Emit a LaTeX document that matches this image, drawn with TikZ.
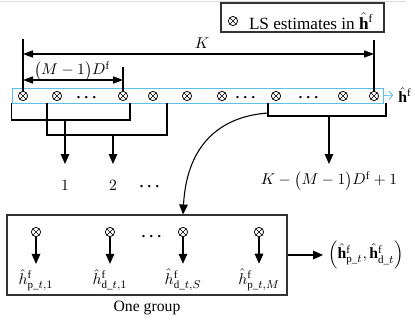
\documentclass[tikz,border=0pt]{standalone}
\usepackage{amsmath}
\usepackage{fontspec}
\setmainfont{Liberation Serif}
\usetikzlibrary{positioning, arrows.meta}
\definecolor{rowblue}{RGB}{95,190,230}

\begin{document}
\begin{tikzpicture}[x=0.7pt, y=-0.7pt, line width=0.75pt, font=\fontsize{11}{13}\selectfont,
    est/.style={circle, draw, line width=0.5pt, inner sep=0pt, minimum size=6.5pt,
      path picture={\draw[line width=0.4pt]
        (path picture bounding box.north west) -- (path picture bounding box.south east)
        (path picture bounding box.north east) -- (path picture bounding box.south west);}},
    tip/.style={-{Triangle[length=7pt, width=6pt]}},
    dim/.style={{Triangle[length=7pt, width=5pt]}-{Triangle[length=7pt, width=5pt]}}]

  \useasboundingbox (0,0) rectangle (415,324);
  \draw[black!15, line width=0.6pt] (0,1) -- (406,1);

  % legend
  \node[draw=black!80, minimum width=163*0.7pt, minimum height=29*0.7pt] (legend) at (302.5,17.5) {};
  \node[est] (legsym) at (233,21) {};
  \node[right=4pt of legsym, font=\fontsize{12}{14}\selectfont] (legtext) {LS estimates in $\hat{\mathbf{h}}^{\mathrm{f}}$};

  % row of LS estimates
  \node[draw=rowblue, line width=0.6pt, minimum width=371*0.7pt, minimum height=15*0.7pt, inner sep=0pt] (row) at (197.5,95.5) {};
  \foreach \x [count=\i] in {23,57,123,153,187,222,276,343,374}
    \node[est] (e\i) at (\x,96) {};
  \foreach \x [count=\i] in {88,247,310}
    \node (dots\i) at (\x,98) {$\boldsymbol{\cdots}$};
  \node (hvec) at (405,95) {$\hat{\mathbf{h}}^{\mathrm{f}}$};
  \draw[rowblue, line width=0.6pt, -{Straight Barb[length=2.5pt, width=6pt]}] (row.east) -- (hvec.west);

  % dimensions
  \coordinate (kL) at (23,39);
  \coordinate (kR) at (374,40);
  \coordinate (mR) at (123,67);
  \draw (e1.north) -- (kL);
  \draw (e9.north) -- (kR);
  \draw (e3.north) -- (mR);
  \draw[dim] (e1 |- 0,54) -- (e9 |- 0,54);
  \draw[dim] (e1 |- 0,80) -- (e3 |- 0,80);
  \node (klbl) at (202,43) {$K$};
  \node (mlbl) at (72,71) {$\bigl(M-1\bigr)D^{\mathrm{f}}$};

  % groups taken from the row
  \draw (row.south west) |- (130,120) -- (130,103);
  \draw (47,103) |- (167,135) -- (167,103);
  \draw (268,103) |- (386,116) -- (386,103);
  \node (n1) at (65,185) {$1$};
  \node (n2) at (113,185) {$2$};
  \node (ndots) at (151,187) {$\boldsymbol{\cdots}$};
  \node (nlast) at (329,181) {$K-\bigl(M-1\bigr)D^{\mathrm{f}}+1$};
  \draw[tip] (n1 |- 0,120) -- (n1 |- 0,164);
  \draw[tip] (n2 |- 0,135) -- (n2 |- 0,164);
  \draw[tip] (nlast |- 0,116) -- (nlast |- 0,164);

  % one group
  \node[draw=black!80, minimum width=280*0.7pt, minimum height=80*0.7pt] (group) at (147,255) {};
  \node[below=0pt of group] (grouplbl) {One group};
  \foreach \x/\s [count=\i] in {36/{\mathrm{p\_}t,1}, 110/{\mathrm{d\_}t,1}, 183/{\mathrm{d\_}t,S}, 259/{\mathrm{p\_}t,M}} {
    \node[est] (g\i) at (\x,232) {};
    \node (h\i) at (\x,280) {$\hat{h}^{\mathrm{f}}_{\s}$};
    \draw[tip] (g\i) -- (h\i.north);
  }
  \node (gdots) at (153,237) {$\boldsymbol{\cdots}$};
  \draw[tip] (268,113) .. controls (225,116) and (187,140) .. (g3 |- group.north);

  \node (out) at (366,255) {$\Bigl(\hat{\mathbf{h}}^{\mathrm{f}}_{\mathrm{p\_}t}, \hat{\mathbf{h}}^{\mathrm{f}}_{\mathrm{d\_}t}\Bigr)$};
  \draw[tip] (group.east) -- (out.west);
\end{tikzpicture}
\end{document}
